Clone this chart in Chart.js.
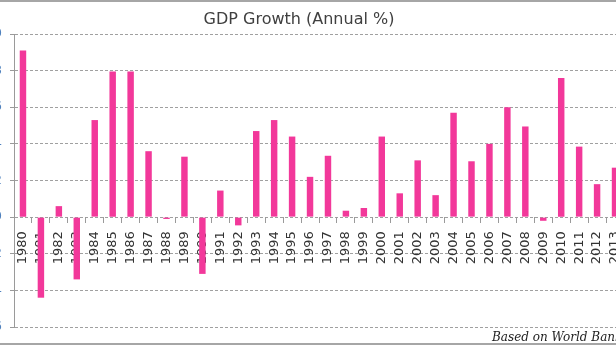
<!DOCTYPE html>
<html>
<head>
<meta charset="utf-8">
<script src="https://cdn.jsdelivr.net/npm/chart.js@4.4.1/dist/chart.umd.min.js"></script>
<style>
    body { margin: 0; width: 616px; height: 346px; overflow: hidden; background: #fff; position: relative; }
    .frame { position: absolute; left: -40px; top: 0; width: 678px; height: 341px; border-top: 2px solid #a6a6a6; border-bottom: 2px solid #a6a6a6; }
    .source { position: absolute; left: 492px; top: 331px; font: italic 12px "DejaVu Serif"; line-height: 12px; color: #222; white-space: nowrap; }
</style>
</head>
<body>
<div class="frame"><canvas id="gdpChart" width="678" height="341"></canvas></div>
<div class="source">Based on World Bank</div>
<script>
// Data
const years = ['1980', '1981', '1982', '1983', '1984', '1985', '1986', '1987', '1988', '1989',
    '1990', '1991', '1992', '1993', '1994', '1995', '1996', '1997', '1998', '1999',
    '2000', '2001', '2002', '2003', '2004', '2005', '2006', '2007', '2008', '2009',
    '2010', '2011', '2012', '2013'];
const growth = [9.1, -4.4, 0.6, -3.4, 5.3, 7.95, 7.95, 3.6, -0.1, 3.3,
    -3.1, 1.45, -0.45, 4.7, 5.3, 4.4, 2.2, 3.35, 0.35, 0.5,
    4.4, 1.3, 3.1, 1.2, 5.7, 3.05, 4.0, 6.0, 4.95, -0.2,
    7.6, 3.85, 1.8, 2.7];
const yTicks = [-6, -4, -2, 0, 2, 4, 6, 8, 10];

const ctx = document.getElementById('gdpChart').getContext('2d');

new Chart(ctx, {
    type: 'bar',
    data: {
        labels: years,
        datasets: [{
            label: 'GDP Growth',
            data: growth,
            backgroundColor: '#F2389A',
            borderWidth: 0,
            categoryPercentage: 1,
            barPercentage: 0.36
        }]
    },
    options: {
        responsive: false,
        animation: false,
        layout: {
            padding: { left: 0, right: 0, top: 0, bottom: 16 }
        },
        plugins: {
            legend: { display: false },
            tooltip: { enabled: false },
            title: {
                display: true,
                text: 'GDP Growth (Annual %)',
                color: '#404040',
                font: { family: 'DejaVu Sans', size: 16, weight: 'normal' },
                padding: { top: 8, bottom: 4.8 }
            }
        },
        scales: {
            y: {
                min: yTicks[0],
                max: yTicks[yTicks.length - 1],
                afterFit: function(scale) {
                    scale.width = 54;
                },
                afterBuildTicks: function(scale) {
                    scale.ticks = yTicks.map(v => ({ value: v }));
                },
                border: { display: true, color: '#9a9a9a', width: 1, dash: [3, 2] },
                grid: {
                    color: '#a0a0a0',
                    tickLength: 4,
                    tickBorderDash: [],
                    tickColor: '#9a9a9a'
                },
                ticks: {
                    color: '#4f81bd',
                    padding: 8,
                    font: { family: 'DejaVu Sans', size: 12 }
                }
            },
            // empty axis that only keeps a little room on the right
            yRight: {
                position: 'right',
                afterFit: function(scale) {
                    scale.width = 14;
                },
                border: { display: false },
                grid: { display: false },
                ticks: { display: false }
            },
            x: {
                position: { y: 0 },
                afterFit: function(scale) {
                    scale.paddingLeft = 0;
                    scale.paddingRight = 0;
                },
                border: { display: false },
                grid: {
                    drawOnChartArea: false,
                    tickLength: 6,
                    color: '#9a9a9a'
                },
                ticks: {
                    color: '#333333',
                    autoSkip: false,
                    minRotation: 90,
                    maxRotation: 90,
                    padding: 8,
                    font: { family: 'DejaVu Sans', size: 13 }
                }
            }
        }
    }
});
</script>
</body>
</html>
